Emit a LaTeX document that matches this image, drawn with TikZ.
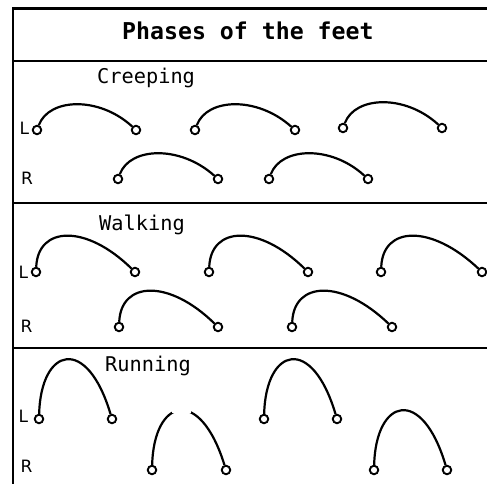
\documentclass[tikz,border=0pt]{standalone}
\usepackage{fontspec}
\setmainfont{DejaVu Sans}
\setmonofont{DejaVu Sans Mono}
\newcommand\footstep[8]{%
  \node[foot] (#1a) at (#2,#4) {};
  \node[foot] (#1b) at (#3,#4) {};
  \draw[arcline] (#1a) .. controls ({#2+#5},{#4-#6}) and ({#2+#7},{#4-#8}) .. (#1b);}
\begin{document}
\begin{tikzpicture}[x=1pt,y=-1pt,
  frame/.style={line width=2.4pt,line join=miter},
  foot/.style={circle,draw,fill=white,line width=1.9pt,minimum size=8.5pt,inner sep=0pt},
  arcline/.style={line width=2.2pt},
  lbl/.style={anchor=base west,inner sep=0pt,font=\fontsize{17}{17}\selectfont},
  gait/.style={anchor=base west,inner sep=0pt,font=\ttfamily\fontsize{20.3}{20.3}\selectfont},
  title/.style={anchor=base west,inner sep=0pt,font=\ttfamily\bfseries\fontsize{23.2}{23.2}\selectfont}]
\useasboundingbox (0,0) rectangle (487,484);
\fill[white] (0,0) rectangle (487,484);
% frame
\draw[frame] (487,8.5) -- (12.8,8.5) -- (12.8,484);
\draw[frame] (12.8,61) -- (487,61);
\draw[frame] (12.8,203) -- (487,203);
\draw[frame] (12.8,348) -- (487,348);
% title and gait names
\node[title] (ttl) at (122,40) {Phases of the feet};
\node[gait] (gc) at (97,84) {Creeping};
\node[gait] (gw) at (99,230.5) {Walking};
\node[gait] (gr) at (105,371.5) {Running};
% L / R labels
\node[lbl] (lc) at (19.5,135) {L};
\node[lbl] (rc) at (21,184) {R};
\node[lbl] (lw) at (18.5,278) {L};
\node[lbl] (rw) at (20.5,332) {R};
\node[lbl] (lr) at (18.5,422) {L};
\node[lbl] (rr) at (20.5,472) {R};
% creeping
\footstep{cl1}{37}{136}{130}{12}{32}{62}{34}
\footstep{cl2}{195}{295}{130}{12}{32}{62}{34}
\footstep{cl3}{343}{442}{128}{12}{32}{62}{34}
\footstep{cr1}{118}{218}{179}{12}{32}{62}{34}
\footstep{cr2}{269}{368}{179}{12}{32}{62}{34}
% walking
\footstep{wl1}{36}{135}{272}{2}{46}{50}{48}
\footstep{wl2}{209}{308}{272}{2}{46}{50}{48}
\footstep{wl3}{381}{482}{272}{2}{46}{50}{48}
\footstep{wr1}{119}{218}{327}{2}{46}{50}{48}
\footstep{wr2}{292}{392}{327}{2}{46}{50}{48}
% running
\footstep{rl1}{39}{112}{419}{2}{72}{48}{84}
\footstep{rl2}{264}{337}{419}{2}{72}{48}{84}
\footstep{rr1}{152}{226}{470}{2}{72}{48}{84}
\footstep{rr2}{374}{447}{470}{2}{72}{48}{84}
\fill[white] (172,405) rectangle (191,413.3);
\end{tikzpicture}
\end{document}
